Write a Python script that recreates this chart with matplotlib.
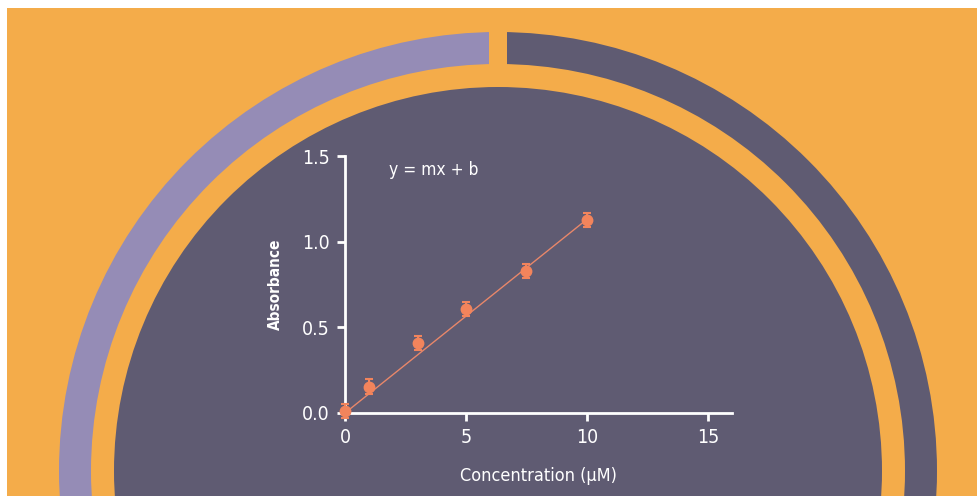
import numpy as np
import matplotlib
matplotlib.use("Agg")
import matplotlib.pyplot as plt
from matplotlib.patches import Wedge, Circle, Rectangle

# Data
conc = [0, 1, 3, 5, 7.5, 10]
absorb = [0.013, 0.154, 0.407, 0.607, 0.83, 1.127]
err = [0.04, 0.043, 0.04, 0.04, 0.04, 0.04]
fit_slope = 0.113
fit_intercept = 0.0
fit_range = [0, 10]
x_ticks = [0, 5, 10, 15]
y_ticks = [0.0, 0.5, 1.0, 1.5]
y_tick_labels = ["0.0", "0.5", "1.0", "1.5"]

ORANGE = "#F4AC4A"
LAVENDER = "#958CB6"
SLATE = "#5F5B72"
CORAL = "#F2845C"
LINE = "#E8876A"

plt.rcParams['font.family'] = ['DejaVu Sans']
plt.rcParams['font.stretch'] = 'condensed'

W, H = 977, 496
fig = plt.figure(figsize=(W / 100, H / 100), dpi=100)
fig.patch.set_facecolor("white")

# Background decoration in pixel coordinates (y up)
bg = fig.add_axes([0, 0, 1, 1])
bg.set_xlim(0, W)
bg.set_ylim(0, H)
bg.axis("off")
bg.add_patch(Rectangle((7, 0), W - 7, H - 8, color=ORANGE, lw=0))

cx, cy = 498, 25
r_outer, ring_w = 439, 32
r_inner = 384
bg.add_patch(Wedge((cx, cy), r_outer, 90, 270, width=ring_w, color=LAVENDER, lw=0))
bg.add_patch(Wedge((cx, cy), r_outer, -90, 90, width=ring_w, color=SLATE, lw=0))
bg.add_patch(Rectangle((489, cy + r_outer - ring_w - 5), 18, ring_w + 10, color=ORANGE, lw=0))
bg.add_patch(Circle((cx, cy), r_inner, color=SLATE, lw=0))

# Chart axes
ax = fig.add_axes([345 / W, 83 / H, (732 - 345) / W, (340 - 83) / H])
ax.patch.set_alpha(0)
ax.set_xlim(0, 16)
ax.set_ylim(0, 1.5)
for s in ["top", "right"]:
    ax.spines[s].set_visible(False)
for s in ["left", "bottom"]:
    ax.spines[s].set_color("white")
    ax.spines[s].set_linewidth(2)
ax.tick_params(colors="white", width=2, length=6, labelsize=14, pad=5)
ax.set_xticks(x_ticks)
ax.set_yticks(y_ticks)
ax.set_yticklabels(y_tick_labels)

fx = np.array(fit_range)
ax.plot(fx, fit_slope * fx + fit_intercept, color=LINE, lw=1, zorder=2)
ax.errorbar(conc, absorb, yerr=err, fmt="o", color=CORAL, ms=7.5,
            elinewidth=1.5, capsize=3, capthick=1.5, zorder=3, clip_on=False)

ax.text(1.8, 1.42, "y = mx + b", color="white", fontsize=12.5, va="center")
ax.set_ylabel("Absorbance", color="white", fontsize=11, fontweight="bold", labelpad=14)
ax.set_xlabel("Concentration (\u03bcM)", color="white", fontsize=13, labelpad=14)

fig.savefig("out.png", dpi=100, facecolor=fig.get_facecolor())
